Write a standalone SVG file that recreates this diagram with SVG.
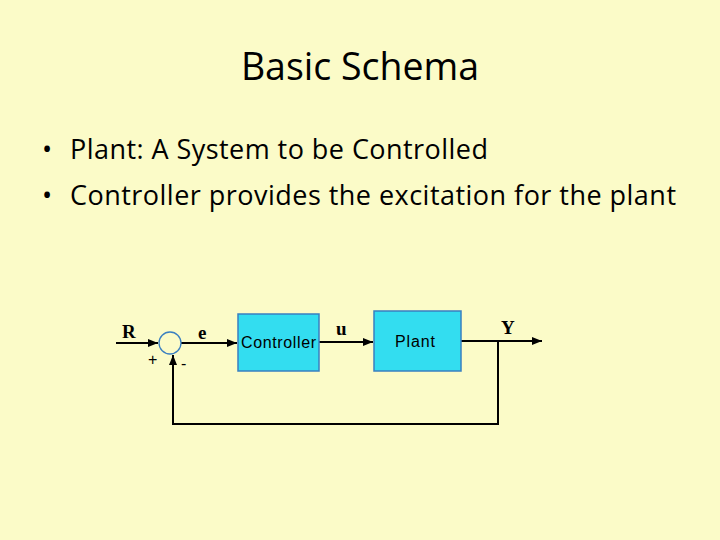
<svg xmlns="http://www.w3.org/2000/svg" width="720" height="540" viewBox="0 0 720 540">
<style>
.t{font-family:"Open Sans","DejaVu Sans",sans-serif;fill:#000}
.blk{fill:#33ddf0;stroke:#3a7fc0;stroke-width:1.5}
.ln{stroke:#000;fill:none;stroke-width:2}
.lb{font-family:"Liberation Serif",serif;font-weight:bold;font-size:19px}
.bl{font-family:"Liberation Sans",sans-serif;font-size:16px}
</style>
<defs><marker id="a" markerWidth="10" markerHeight="8" refX="10" refY="4" orient="auto" markerUnits="userSpaceOnUse"><path d="M0,0L10,4L0,8z" fill="#000"/></marker></defs>
<rect width="720" height="540" fill="#fbfbc8"/>
<text class="t" x="360" y="80" font-size="37.5" text-anchor="middle">Basic Schema</text>
<text class="t" x="42" y="159" font-size="27">•</text>
<text class="t" x="70" y="159" font-size="27" textLength="418">Plant: A System to be Controlled</text>
<text class="t" x="42" y="205" font-size="27">•</text>
<text class="t" x="70" y="205" font-size="27" textLength="606">Controller provides the excitation for the plant</text>
<g id="connectors">
<path class="ln" d="M116,343H158" marker-end="url(#a)"/>
<path class="ln" d="M181,343H237" stroke-width="1.3" marker-end="url(#a)"/>
<path class="ln" d="M319,342H373" marker-end="url(#a)" stroke-width="2.5"/>
<path class="ln" d="M461,341H542" stroke-width="1.3" marker-end="url(#a)"/>
<path class="ln" d="M498,341V424H173V355" marker-end="url(#a)"/>
</g>
<g id="sum"><circle cx="170" cy="343" r="11" fill="none" stroke="#3a7fc0" stroke-width="1.3"/>
<text class="bl" x="148" y="365" font-size="11">+</text><text class="bl" x="181" y="369" font-size="11">-</text></g>
<g id="controller"><rect class="blk" x="238" y="314" width="81" height="57"/><text class="bl" x="241" y="348" textLength="75">Controller</text></g>
<g id="plant"><rect class="blk" x="374" y="311" width="87" height="60"/><text class="bl" x="395" y="347" textLength="40">Plant</text></g>
<text class="lb" x="122" y="338" font-weight="normal">R</text>
<text class="lb" x="198" y="339">e</text>
<text class="lb" x="336" y="335">u</text>
<text class="lb" x="501" y="334">Y</text>
</svg>
